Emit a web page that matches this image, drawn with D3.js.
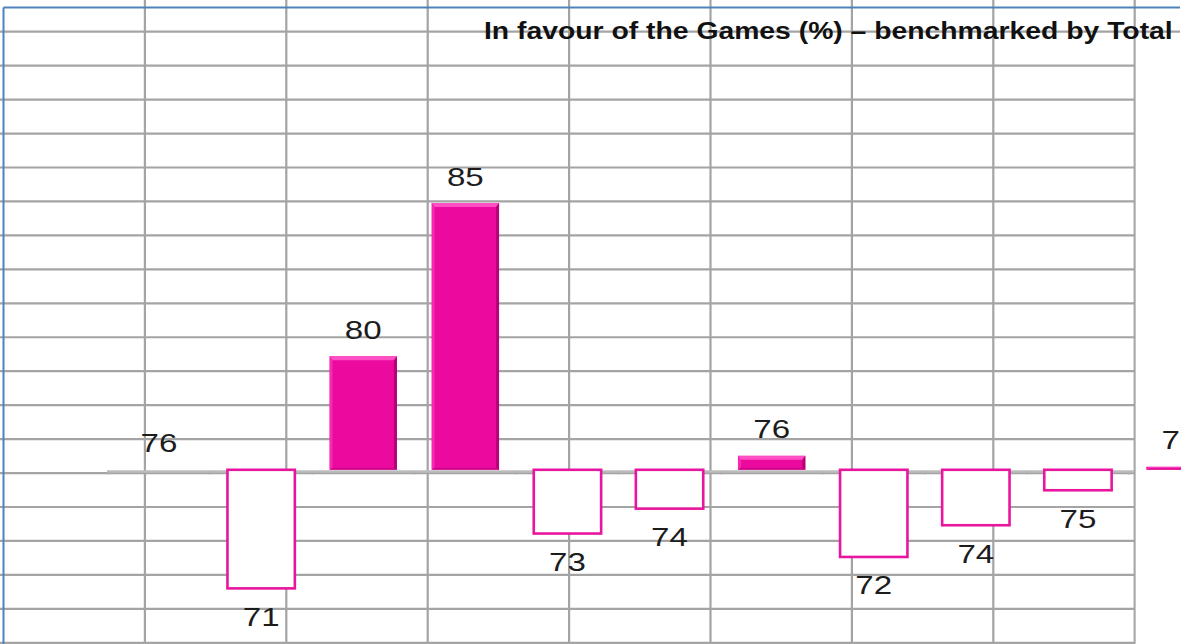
<!DOCTYPE html>
<html><head><meta charset="utf-8">
<script src="https://cdn.jsdelivr.net/npm/d3@7"></script>
<style>html,body{margin:0;padding:0;background:#fff;overflow:hidden}</style>
</head>
<body>
<svg id="c" width="1199" height="644"></svg>
<script>
// ---- data ----
const categories = ["Total","C1","C2","C3","C4","C5","C6","C7","C8","C9","C10"];
const totalValue = 76;
const valueLabels = [76, 71, 80, 85, 73, 74, 76, 72, 74, 75, 76];
// bar length in points relative to Total, as drawn in the picture
const gapToTotal = [0, -4.0, 3.83, 9.0, -2.15, -1.31, 0.47, -2.94, -1.87, -0.69, 0.1];
const titleMain = "In favour of the Games (%) \u2013 benchmarked by Total";
const titleTail = " (";

const W = 1199, H = 644;
const svg = d3.select("#c");

// ---- spreadsheet background grid ----
const colX = d3.range(1, 9).map(k => 3.5 + 141.4 * k);
const rowY = d3.range(0, 19).map(k => 31.7 + 33.95 * k);
const grid = svg.append("g");
grid.selectAll("line.h").data(rowY).join("line").attr("class","h")
  .attr("x1", 0).attr("x2", (d, i) => i === 0 ? 1180 : 1134.5)
  .attr("y1", d => d).attr("y2", d => d)
  .attr("stroke", "#a4a4a4").attr("stroke-width", 2.2);
grid.selectAll("line.v").data(colX).join("line").attr("class","v")
  .attr("x1", d => d).attr("x2", d => d).attr("y1", 0).attr("y2", H)
  .attr("stroke", "#a4a4a4").attr("stroke-width", 2.2);
svg.append("rect").attr("x", 1135.8).attr("y", 33).attr("width", W - 1135.8).attr("height", H - 33).attr("fill", "#fff");
svg.append("rect").attr("x", 1181).attr("y", 0).attr("width", W - 1181).attr("height", 33).attr("fill", "#fff");
// blue frame
svg.append("line").attr("x1", 3.5).attr("x2", 1180).attr("y1", 7.5).attr("y2", 7.5).attr("stroke", "#4f81bd").attr("stroke-width", 2);
svg.append("line").attr("x1", 3.5).attr("x2", 3.5).attr("y1", 7.5).attr("y2", H).attr("stroke", "#4f81bd").attr("stroke-width", 2);

// clip everything of the chart to the visible area
svg.append("defs").append("clipPath").attr("id", "clip")
  .append("rect").attr("x", 0).attr("y", 0).attr("width", 1181).attr("height", H);
const g = svg.append("g").attr("clip-path", "url(#clip)");

// ---- scales ----
const x = d3.scaleBand().domain(categories).range([108, 108 + categories.length * 102.1]).padding(0);
const y = d3.scaleLinear().domain([0, 9]).range([469.8, 203]);
const barW = x.bandwidth() * 0.66;
const bx = c => x(c) + (x.bandwidth() - barW) / 2;

// ---- axis ----
const axisY = 471.5;
g.append("line").attr("x1", x.range()[0] - 1).attr("x2", 1134).attr("y1", axisY).attr("y2", axisY)
  .attr("stroke", "#bcbcbc").attr("stroke-width", 2.5);
g.selectAll("line.tk").data(categories).join("line").attr("class","tk")
  .attr("x1", c => x(c)).attr("x2", c => x(c)).attr("y1", axisY).attr("y2", axisY + 3)
  .attr("stroke", "#b0b0b0").attr("stroke-width", 1.5);

// ---- bars ----
const rows = categories.map((c, i) => ({c, v: gapToTotal[i], lab: valueLabels[i]}));
const pink = "#ec0a9e";
rows.forEach(d => {
  const x0 = bx(d.c), x1 = x0 + barW;
  if (d.v > 0) {
    const top = y(d.v), bot = y(0);
    const h = bot - top, b = Math.min(4, h / 3);
    g.append("rect").attr("x", x0).attr("y", top).attr("width", barW).attr("height", h).attr("fill", pink);
    g.append("path").attr("d", `M${x0},${top}L${x1},${top}L${x1-3},${top+b}L${x0+3},${top+b}Z`).attr("fill", "#ff4fc4");
    g.append("path").attr("d", `M${x1},${top}L${x1},${bot}L${x1-3},${bot-b/2}L${x1-3},${top+b}Z`).attr("fill", "#a8006f").attr("opacity", 0.8);
    g.append("path").attr("d", `M${x0},${top}L${x0+3},${top+b}L${x0+3},${bot-b/2}L${x0},${bot}Z`).attr("fill", "#ff3dbd").attr("opacity", 0.6);
    g.append("path").attr("d", `M${x0},${bot}L${x1},${bot}L${x1-3},${bot-b/2}L${x0+3},${bot-b/2}Z`).attr("fill", "#c2007f").attr("opacity", 0.7);
  } else if (d.v < 0) {
    g.append("rect").attr("x", x0).attr("y", y(0)).attr("width", barW).attr("height", y(d.v) - y(0))
      .attr("fill", "#fff").attr("stroke", "#e8159f").attr("stroke-width", 2.6);
  }
});

// ---- value labels ----
g.selectAll("text.lab").data(rows).join("text").attr("class","lab")
  .attr("transform", d => {
    const cx = x(d.c) + x.bandwidth() / 2;
    const ty = d.v >= 0 ? y(d.v) - 17.5 : y(d.v) + 37.5;
    return `translate(${cx},${ty}) scale(1.3,1)`;
  })
  .attr("text-anchor", "middle")
  .attr("font-family", "'Liberation Sans', Arial, sans-serif")
  .attr("font-size", 25.5).attr("fill", "#1c1c1c")
  .text(d => d.lab);

// ---- title ----
const t = g.append("text")
  .attr("font-family", "'Liberation Sans', Arial, sans-serif")
  .attr("font-weight", "bold").attr("font-size", 23.5).attr("fill", "#111")
  .text(titleMain);
const L = t.node().getComputedTextLength();
const sx = (1173 - 484) / L;
t.text(titleMain + titleTail).attr("transform", `translate(484,38.8) scale(${sx},1)`);
</script>
</body></html>
